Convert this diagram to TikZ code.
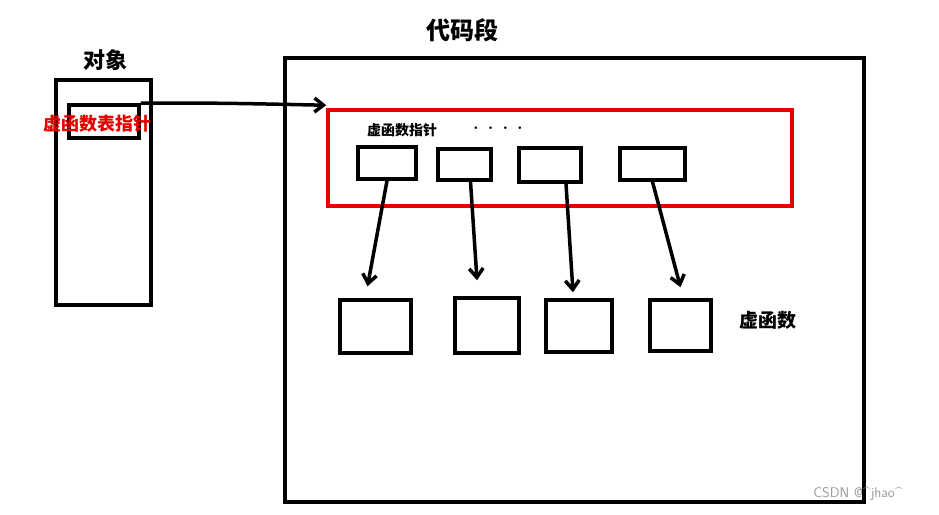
\documentclass[tikz,border=0pt]{standalone}
\usepackage{fontspec}
\newfontfamily\cjk{Noto Sans CJK SC}
\usetikzlibrary{arrows.meta}
\begin{document}
\begin{tikzpicture}[x=1pt,y=-1pt,
  bx/.style={draw=black,line width=3.5pt,inner sep=0pt},
  arr/.style={line width=3.5pt,-{Straight Barb[length=9pt,width=14pt]}},
  lbl/.style={font=\cjk\bfseries,inner sep=0pt}]
\useasboundingbox[fill=white] (0,0) rectangle (939,514);
\node[bx,minimum width=95,minimum height=225] (obj) at (103.5,192.5) {};
\node[bx,minimum width=70,minimum height=33] (ptr) at (104,121.5) {};
\node[lbl,text=red!90!black,font=\cjk\bfseries\fontsize{18}{20}\selectfont] (ptrl) at (97,124) {虚函数表指针};
\node[lbl,font=\cjk\bfseries\fontsize{22}{24}\selectfont] (objl) at (105,60) {对象};
\node[lbl,font=\cjk\bfseries\fontsize{24}{26}\selectfont] (codel) at (462,30) {代码段};
\node[bx,minimum width=579,minimum height=444] (code) at (574.5,280) {};
\node[bx,draw=red!90!black,minimum width=464,minimum height=96] (vt) at (560,158) {};
\node[lbl,font=\cjk\bfseries\fontsize{14}{16}\selectfont] (vtl) at (402,130) {虚函数指针};
\node[lbl,font=\bfseries\fontsize{18}{18}\selectfont] (dots) at (498,128) {. . . .};
\node[bx,minimum width=58,minimum height=32] (v1) at (387,163) {};
\node[bx,minimum width=53,minimum height=31] (v2) at (464.5,164.5) {};
\node[bx,minimum width=62,minimum height=34] (v3) at (550,165) {};
\node[bx,minimum width=65,minimum height=32] (v4) at (652.5,164) {};
\node[bx,minimum width=71,minimum height=53] (f1) at (375.5,326.5) {};
\node[bx,minimum width=64,minimum height=55] (f2) at (487,325.5) {};
\node[bx,minimum width=66,minimum height=52] (f3) at (579,326) {};
\node[bx,minimum width=61,minimum height=51] (f4) at (680.5,325.5) {};
\node[lbl,font=\cjk\bfseries\fontsize{19}{21}\selectfont] (fl) at (768,320) {虚函数};
\node[lbl,text=gray!80,font=\fontfamily{lmss}\fontsize{14}{16}\selectfont] (wm) at (858,494) {CSDN @\textasciicircum jhao\textasciicircum};
\draw[arr] (ptr.north east) .. controls (220,103) .. ([xshift=0pt,yshift=3pt]vt.north west);
\draw[arr] (v1.south) -- ([xshift=-8pt,yshift=12pt]f1.north);
\draw[arr] ([xshift=6pt]v2.south) -- ([xshift=-10pt,yshift=16pt]f2.north);
\draw[arr] ([xshift=16pt]v3.south) -- ([xshift=-6pt,yshift=6pt]f3.north);
\draw[arr] (v4.south) -- ([xshift=0pt,yshift=11pt]f4.north);
\end{tikzpicture}
\end{document}
